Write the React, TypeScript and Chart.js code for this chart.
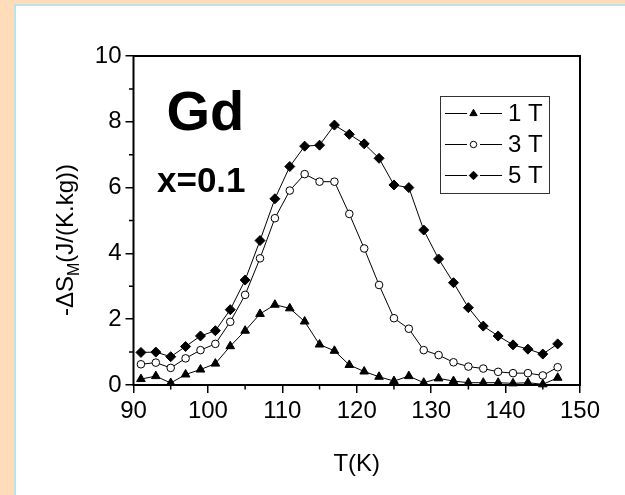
import React, { useEffect, useRef } from 'react';
import { Chart, registerables } from 'chart.js';

Chart.register(...registerables);

// ---- data ----
const temperatureK = [91, 93, 95, 97, 99, 101, 103, 105, 107, 109, 111, 113, 115, 117, 119, 121, 123, 125, 127, 129, 131, 133, 135, 137, 139, 141, 143, 145, 147];
const entropy1T = [0.18, 0.27, 0.06, 0.32, 0.47, 0.65, 1.18, 1.65, 2.16, 2.44, 2.33, 1.93, 1.23, 1.04, 0.61, 0.41, 0.25, 0.12, 0.27, 0.07, 0.2, 0.12, 0.07, 0.07, 0.07, 0.05, 0.07, 0.02, 0.22];
const entropy3T = [0.63, 0.68, 0.52, 0.81, 1.06, 1.25, 1.92, 2.74, 3.85, 5.07, 5.91, 6.41, 6.18, 6.18, 5.2, 4.15, 3.04, 2.03, 1.71, 1.06, 0.91, 0.69, 0.56, 0.5, 0.4, 0.36, 0.36, 0.29, 0.54];
const entropy5T = [0.99, 1.0, 0.86, 1.17, 1.49, 1.65, 2.29, 3.19, 4.39, 5.66, 6.64, 7.26, 7.29, 7.9, 7.62, 7.33, 6.89, 6.08, 6.0, 4.71, 3.83, 3.11, 2.35, 1.79, 1.49, 1.22, 1.09, 0.94, 1.25];
const seriesNames = ['1 T', '3 T', '5 T'];
const xTickValues = [90, 100, 110, 120, 130, 140, 150];
const xMinorTickValues = [95, 105, 115, 125, 135, 145];
const yTickValues = [0, 2, 4, 6, 8, 10];
const yMinorTickValues = [1, 3, 5, 7, 9];
const xTitle = 'T(K)';
const yTitleHead = '-ΔS';
const yTitleSub = 'M';
const yTitleTail = '(J/(K.kg))';
const sampleText = 'Gd';
const compositionText = 'x=0.1';

const FONT = '"Liberation Sans", Arial, Helvetica, sans-serif';

type MarkerStyle = 'triangle' | 'circle' | 'rectRot';

function drawMarker(ctx: CanvasRenderingContext2D, style: MarkerStyle, x: number, y: number, r: number, fill: string, stroke: string) {
  ctx.beginPath();
  if (style === 'triangle') {
    for (let k = 0; k < 3; k++) {
      const a = (k * 2 * Math.PI) / 3;
      const px = x + Math.sin(a) * r;
      const py = y - Math.cos(a) * r;
      if (k === 0) ctx.moveTo(px, py);
      else ctx.lineTo(px, py);
    }
    ctx.closePath();
  } else if (style === 'circle') {
    ctx.arc(x, y, r, 0, Math.PI * 2);
  } else {
    ctx.moveTo(x - r, y);
    ctx.lineTo(x, y - r);
    ctx.lineTo(x + r, y);
    ctx.lineTo(x, y + r);
    ctx.closePath();
  }
  ctx.fillStyle = fill;
  ctx.fill();
  ctx.strokeStyle = stroke;
  ctx.lineWidth = 1;
  ctx.stroke();
}

const decorPlugin = {
  id: 'decor',
  beforeDatasetsDraw(chart: any) {
    const { ctx, chartArea: a, scales } = chart;
    ctx.save();
    // frame
    ctx.strokeStyle = '#000';
    ctx.lineWidth = 2;
    ctx.strokeRect(a.left, a.top, a.right - a.left, a.bottom - a.top);
    // minor ticks
    ctx.lineWidth = 1.5;
    ctx.beginPath();
    xMinorTickValues.forEach((v) => {
      const px = scales.x.getPixelForValue(v);
      ctx.moveTo(px, a.bottom);
      ctx.lineTo(px, a.bottom + 4.5);
    });
    yMinorTickValues.forEach((v) => {
      const py = scales.y.getPixelForValue(v);
      ctx.moveTo(a.left, py);
      ctx.lineTo(a.left - 4.5, py);
    });
    ctx.stroke();

    // annotations
    ctx.fillStyle = '#000';
    ctx.textAlign = 'left';
    ctx.textBaseline = 'alphabetic';
    ctx.font = `bold 56px ${FONT}`;
    ctx.fillText(sampleText, a.left + 33, a.top + 74);
    ctx.font = `bold 35px ${FONT}`;
    ctx.fillText(compositionText, a.left + 23.5, a.top + 136);

    // x title
    ctx.font = `24px ${FONT}`;
    ctx.textAlign = 'center';
    ctx.fillText(xTitle, (a.left + a.right) / 2, a.bottom + 86);

    // y title (rotated, with subscript)
    ctx.save();
    ctx.translate(a.left - 61, a.top + 184);
    ctx.rotate(-Math.PI / 2);
    ctx.textAlign = 'left';
    const mainFont = `24px ${FONT}`;
    const subFont = `16px ${FONT}`;
    ctx.font = mainFont;
    const w1 = ctx.measureText(yTitleHead).width;
    const w3 = ctx.measureText(yTitleTail).width;
    ctx.font = subFont;
    const w2 = ctx.measureText(yTitleSub).width;
    let cx = -(w1 + w2 + w3) / 2;
    ctx.font = mainFont;
    ctx.fillText(yTitleHead, cx, 0);
    cx += w1;
    ctx.font = subFont;
    ctx.fillText(yTitleSub, cx, 6);
    cx += w2;
    ctx.font = mainFont;
    ctx.fillText(yTitleTail, cx, 0);
    ctx.restore();

    ctx.restore();
  },
  afterDatasetsDraw(chart: any) {
    const { ctx, chartArea: a } = chart;
    ctx.save();
    const bx = a.left + 306.5;
    const by = a.top + 40;
    const bw = 109;
    const bh = 97;
    ctx.fillStyle = '#fff';
    ctx.fillRect(bx, by, bw, bh);
    ctx.strokeStyle = '#333';
    ctx.lineWidth = 1;
    ctx.strokeRect(Math.round(bx) + 0.5, Math.round(by) + 0.5, bw, bh);
    chart.data.datasets.forEach((ds: any, i: number) => {
      const y = by + 17.5 + i * 31;
      ctx.strokeStyle = '#000';
      ctx.lineWidth = 1;
      ctx.beginPath();
      ctx.moveTo(bx + 5, y);
      ctx.lineTo(bx + 27, y);
      ctx.moveTo(bx + 40, y);
      ctx.lineTo(bx + 62, y);
      ctx.stroke();
      drawMarker(ctx, ds.pointStyle, bx + 33.5, y, ds.pointRadius * 0.85, ds.pointBackgroundColor, ds.pointBorderColor);
      ctx.fillStyle = '#000';
      ctx.font = `24px ${FONT}`;
      ctx.textAlign = 'left';
      ctx.textBaseline = 'middle';
      ctx.fillText(ds.label, bx + 68, y + 1);
    });
    ctx.restore();
  },
};

function makeDataset(label: string, values: number[], style: MarkerStyle, radius: number, fill: string) {
  return {
    label,
    data: temperatureK.map((t, i) => ({ x: t, y: values[i] })),
    borderColor: '#000',
    borderWidth: 1,
    tension: 0,
    pointStyle: style,
    pointRadius: radius,
    pointBackgroundColor: fill,
    pointBorderColor: '#000',
    pointBorderWidth: 1,
    clip: false as any,
  };
}

export default function App() {
  const canvasRef = useRef<HTMLCanvasElement | null>(null);

  useEffect(() => {
    const canvas = canvasRef.current;
    if (!canvas) return;
    const tickFont = { family: FONT, size: 24 };
    const chart = new Chart(canvas, {
      type: 'line',
      data: {
        datasets: [
          makeDataset(seriesNames[0], entropy1T, 'triangle', 5, '#000'),
          makeDataset(seriesNames[1], entropy3T, 'circle', 3.8, '#fff'),
          makeDataset(seriesNames[2], entropy5T, 'rectRot', 5, '#000'),
        ],
      },
      options: {
        responsive: false,
        animation: false,
        devicePixelRatio: 1,
        layout: { padding: { left: 0, top: 56, right: 45, bottom: 0 } },
        plugins: { legend: { display: false }, tooltip: { enabled: false } },
        scales: {
          x: {
            type: 'linear',
            min: 90,
            max: 150,
            afterBuildTicks: (axis: any) => {
              axis.ticks = xTickValues.map((value) => ({ value }));
            },
            afterFit: (axis: any) => {
              axis.height = 110;
            },
            ticks: { font: tickFont, color: '#000', padding: 4, maxRotation: 0, autoSkip: false },
            grid: { drawOnChartArea: false, drawTicks: true, tickLength: 8, color: '#000', lineWidth: 1.5 },
            border: { display: false },
          },
          y: {
            type: 'linear',
            min: 0,
            max: 10,
            afterBuildTicks: (axis: any) => {
              axis.ticks = yTickValues.map((value) => ({ value }));
            },
            afterFit: (axis: any) => {
              axis.width = 133.5;
            },
            ticks: { font: tickFont, color: '#000', padding: 4, autoSkip: false },
            grid: { drawOnChartArea: false, drawTicks: true, tickLength: 8, color: '#000', lineWidth: 1.5 },
            border: { display: false },
          },
        },
      },
      plugins: [decorPlugin],
    } as any);
    return () => chart.destroy();
  }, []);

  return (
    <div style={{ position: 'fixed', left: 0, top: 0, width: 625, height: 495, background: '#FFDDBB', overflow: 'hidden' }}>
      <div
        style={{
          position: 'absolute',
          left: 14,
          top: 4,
          width: 640,
          height: 520,
          background: '#fff',
          borderLeft: '2px solid #BDE3E8',
          borderTop: '2px solid #BDE3E8',
        }}
      />
      <canvas ref={canvasRef} width={625} height={495} style={{ position: 'absolute', left: 0, top: 0, width: 625, height: 495 }} />
    </div>
  );
}
